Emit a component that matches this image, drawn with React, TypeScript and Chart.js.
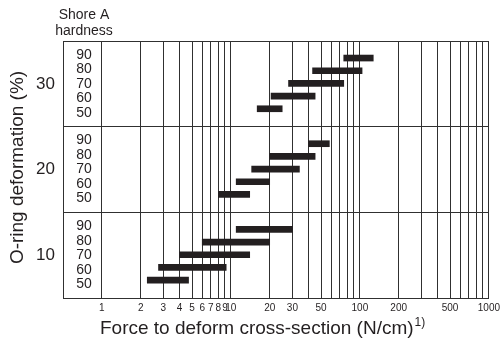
import { useEffect, useRef } from 'react';
import { Chart, registerables } from 'chart.js';

Chart.register(...registerables);

// O-ring deformation bands (bottom to top) and Shore A hardness rows (top to bottom within a band)
const deformations = [10, 20, 30];
const hardness = [90, 80, 70, 60, 50];

// Force to deform cross-section (N/cm), range start / end per hardness row
const force10Min = [11, 6, 4, 2.75, 2.25];
const force10Max = [30, 20, 14, 9.2, 4.7];
const force20Min = [40, 20, 14.5, 11, 8];
const force20Max = [58, 45, 34, 20, 14];
const force30Min = [75, 43, 28, 20.5, 16];
const force30Max = [127, 104, 75, 45, 25];

const xTickValues = [1, 2, 3, 4, 5, 6, 7, 8, 9, 10, 20, 30, 40, 50, 60, 70, 80, 90, 100, 200, 300, 400, 500, 600, 700, 800, 900, 1000];
const xTickLabels = [1, 2, 3, 4, 5, 6, 7, 8, 9, 10, 20, 30, 50, 100, 200, 500, 1000];

// layout fractions of one band
const BAR_TOP = 0.199;
const BAR_STEP = 0.148;
const LABEL_TOP = 0.163;
const LABEL_STEP = 0.169;

const FONT = '"Liberation Sans", Arial, Helvetica, sans-serif';
const LINE = '#303030';
const TEXT = '#231f20';

export default function App() {
  const ref = useRef<HTMLCanvasElement>(null);

  useEffect(() => {
    const canvas = ref.current;
    if (!canvas) return;
    const mins = [force10Min, force20Min, force30Min];
    const maxs = [force10Max, force20Max, force30Max];
    const data: { x: number[]; y: number }[] = [];
    deformations.forEach((_d, j) => {
      hardness.forEach((_h, k) => {
        data.push({ x: [mins[j][k], maxs[j][k]], y: j + 1 - (BAR_TOP + BAR_STEP * k) });
      });
    });

    const textPlugin = {
      id: 'texts',
      afterDraw(chart: any) {
        const ctx = chart.ctx as CanvasRenderingContext2D;
        const ys = chart.scales.y;
        const area = chart.chartArea;
        ctx.save();
        ctx.fillStyle = TEXT;
        ctx.textAlign = 'center';
        ctx.textBaseline = 'alphabetic';
        ctx.font = `14px ${FONT}`;
        ctx.fillText('Shore A', 84, 18.5);
        ctx.fillText('hardness', 84, 35);
        ctx.textBaseline = 'middle';
        const lx = (area.left + chart.scales.x.getPixelForValue(1)) / 2 + 1.5;
        deformations.forEach((_d, j) => {
          hardness.forEach((h, k) => {
            const py = ys.getPixelForValue(j + 1 - (LABEL_TOP + LABEL_STEP * k));
            ctx.fillText(String(h), lx, py);
          });
        });
        // y title
        ctx.save();
        ctx.translate(22.5, (area.top + area.bottom) / 2 - 2);
        ctx.rotate(-Math.PI / 2);
        ctx.textBaseline = 'alphabetic';
        ctx.font = `19px ${FONT}`;
        ctx.fillText('O-ring deformation (%)', 0, 0);
        ctx.restore();
        // x title with superscript
        ctx.textAlign = 'left';
        ctx.textBaseline = 'alphabetic';
        ctx.font = `19px ${FONT}`;
        const main = 'Force to deform cross-section (N/cm)';
        const x0 = 100;
        const base = 334;
        ctx.fillText(main, x0, base);
        const w = ctx.measureText(main).width;
        ctx.font = `12px ${FONT}`;
        ctx.fillText('1)', x0 + w + 1, base - 8);
        ctx.restore();
      },
    };

    const chart = new Chart(canvas, {
      type: 'bar',
      data: {
        datasets: [
          {
            data: data as any,
            backgroundColor: '#231f20',
            borderWidth: 0,
            barThickness: 6,
          },
        ],
      },
      options: {
        indexAxis: 'y',
        animation: false,
        responsive: false,
        layout: { padding: { top: 41, right: 11, left: 0, bottom: 0 } },
        plugins: { legend: { display: false }, tooltip: { enabled: false } },
        scales: {
          x: {
            type: 'logarithmic',
            min: 0.5,
            max: 1000,
            afterBuildTicks: (s: any) => {
              s.ticks = xTickValues.map((v) => ({ value: v }));
            },
            afterFit: (s: any) => {
              s.height = 49;
            },
            grid: { color: LINE, lineWidth: 1, drawTicks: false },
            border: { color: LINE, width: 1 },
            ticks: {
              autoSkip: false,
              maxRotation: 0,
              minRotation: 0,
              padding: 4,
              color: TEXT,
              font: { family: '"Liberation Sans Narrow", "Liberation Sans", Arial, sans-serif', size: 10 },
              callback: (v: any) => (xTickLabels.includes(Number(v)) ? String(v) : ''),
            },
          },
          y: {
            type: 'linear',
            min: 0,
            max: 3,
            offset: false,
            afterBuildTicks: (s: any) => {
              s.ticks = [0, 0.5, 1, 1.5, 2, 2.5, 3].map((v) => ({ value: v }));
            },
            afterFit: (s: any) => {
              s.width = 63;
            },
            grid: {
              offset: false,
              color: (c: any) => (c.tick && c.tick.value % 1 !== 0 ? 'rgba(0,0,0,0)' : LINE),
              lineWidth: 1,
              drawTicks: false,
            },
            border: { color: LINE, width: 1 },
            ticks: {
              padding: 8,
              color: TEXT,
              font: { family: FONT, size: 17 },
              callback: (v: any) => {
                const n = Number(v);
                if (n % 1 === 0) return '';
                return String(deformations[Math.floor(n)]);
              },
            },
          },
        },
      },
      plugins: [textPlugin],
    });
    return () => chart.destroy();
  }, []);

  return (
    <div style={{ position: 'absolute', left: 0, top: 0, width: 504, height: 347, background: '#fff' }}>
      <canvas ref={ref} width={504} height={347} style={{ display: 'block' }} />
    </div>
  );
}
